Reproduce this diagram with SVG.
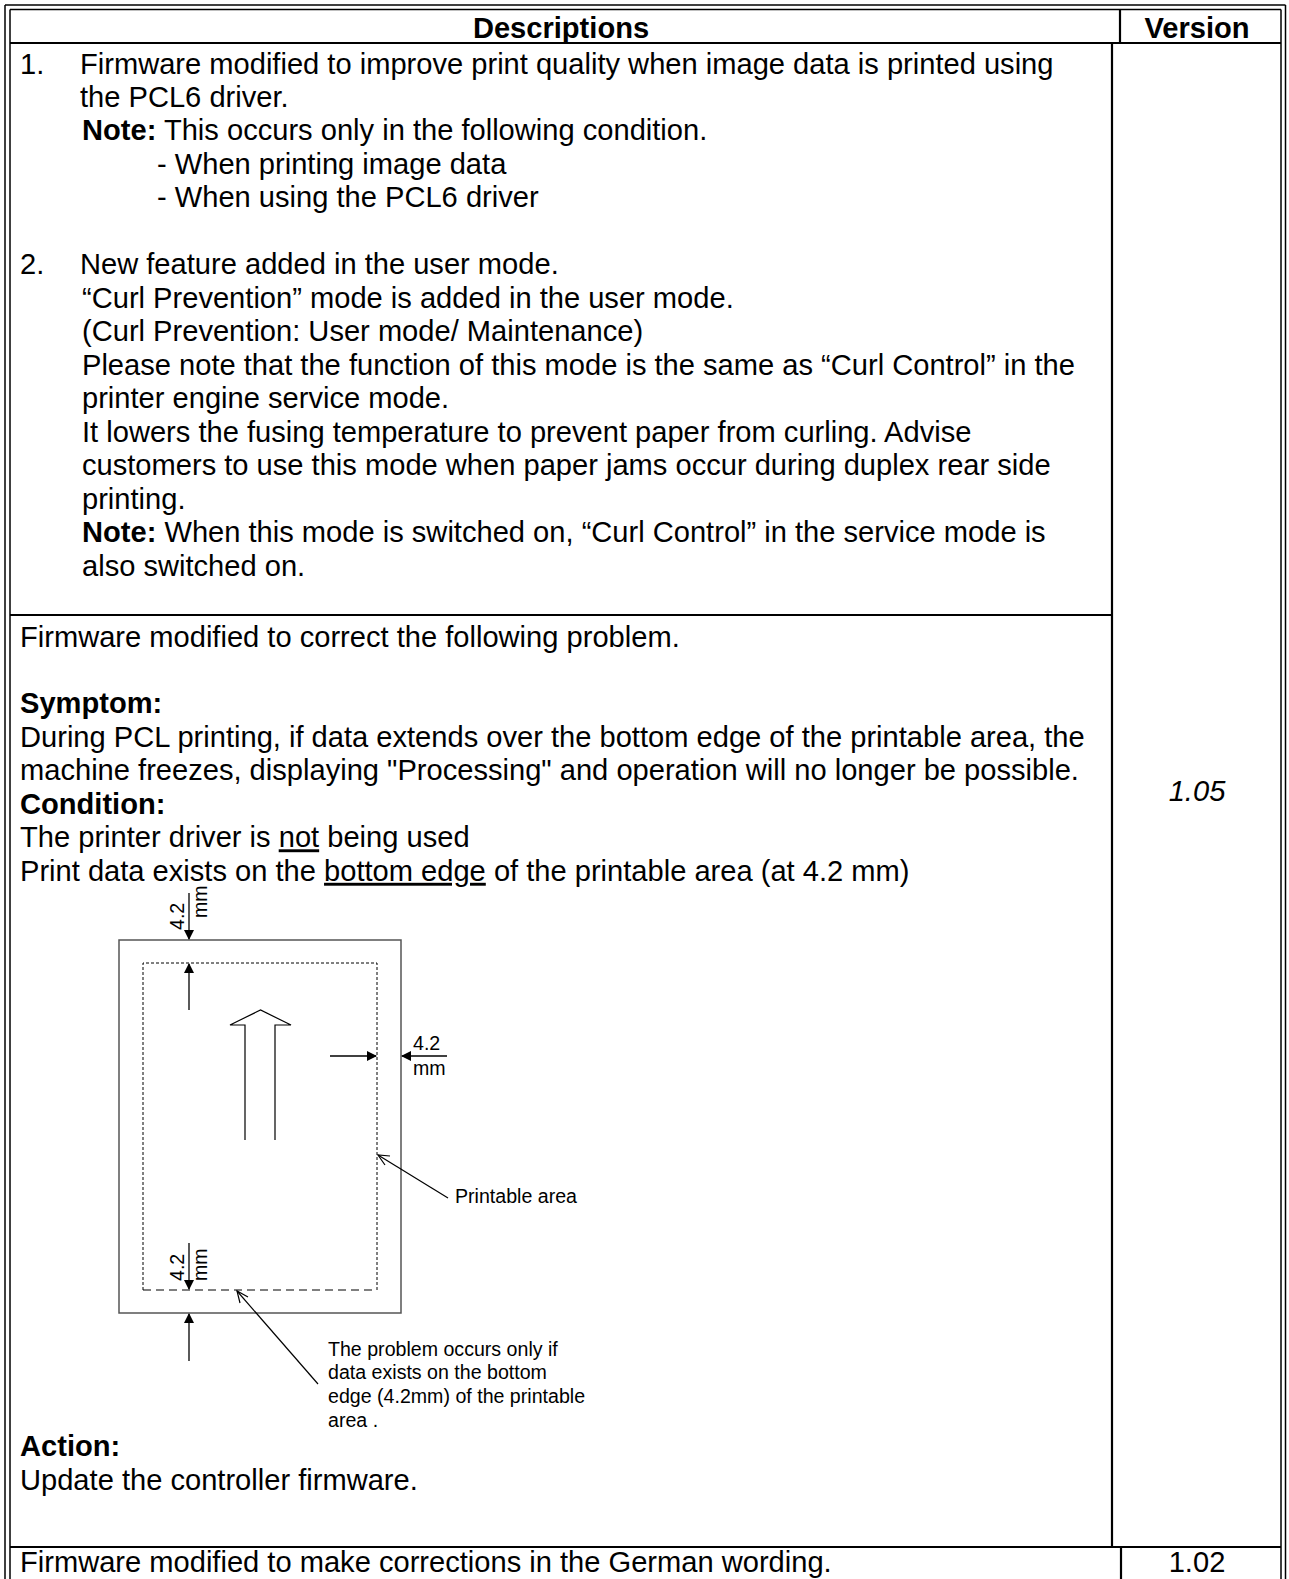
<svg xmlns="http://www.w3.org/2000/svg" width="1289" height="1579" viewBox="0 0 1289 1579">
<defs>
<style>
.t{font-family:"Liberation Sans",Arial,sans-serif;font-size:29.1px;fill:#000}
.b{font-weight:bold}
.s{font-family:"Liberation Sans",Arial,sans-serif;font-size:19.6px;fill:#000}
.ln{stroke:#000;stroke-width:2.2;fill:none}
.dl{stroke:#000;stroke-width:1.5;fill:none}
.dim{stroke:#000;stroke-width:1.3;fill:none}
.ld{stroke:#000;stroke-width:1.2;fill:none}
</style>
<marker id="fh" markerWidth="10" markerHeight="10" refX="9" refY="5" orient="auto" markerUnits="userSpaceOnUse">
<path d="M0,0 L10,5 L0,10 Z" fill="#000"/>
</marker>
</defs>
<rect width="1289" height="1579" fill="#fff"/>

<g id="table">
<line class="dl" x1="5" y1="5" x2="1285.5" y2="5"/>
<line class="dl" x1="10" y1="9.5" x2="1281" y2="9.5"/>
<line class="dl" x1="5" y1="5" x2="5" y2="1579"/>
<line class="dl" x1="10" y1="9.5" x2="10" y2="1579"/>
<line class="dl" x1="1285.5" y1="5" x2="1285.5" y2="1579"/>
<line class="dl" x1="1281" y1="9.5" x2="1281" y2="1579"/>
<line class="ln" x1="10" y1="43" x2="1281" y2="43"/>
<line class="ln" x1="1120" y1="9.5" x2="1120" y2="43"/>
<line class="ln" x1="1112" y1="43" x2="1112" y2="1547"/>
<line class="ln" x1="10" y1="615" x2="1112" y2="615"/>
<line class="ln" x1="10" y1="1547" x2="1281" y2="1547"/>
<line class="ln" x1="1121" y1="1547" x2="1121" y2="1579"/>
</g>

<g id="header">
<text class="t b" x="561" y="38" text-anchor="middle">Descriptions</text>
<text class="t b" x="1197" y="38" text-anchor="middle">Version</text>
</g>

<g id="row1">
<text class="t" x="20" y="73.5">1.</text>
<text class="t" x="80" y="73.5">Firmware modified to improve print quality when image data is printed using</text>
<text class="t" x="80" y="107">the PCL6 driver.</text>
<text class="t" x="82" y="140.4"><tspan class="b">Note:</tspan> This occurs only in the following condition.</text>
<text class="t" x="157" y="173.9">- When printing image data</text>
<text class="t" x="157" y="207.4">- When using the PCL6 driver</text>
<text class="t" x="20" y="274.3">2.</text>
<text class="t" x="80" y="274.3">New feature added in the user mode.</text>
<text class="t" x="82" y="307.8">“Curl Prevention” mode is added in the user mode.</text>
<text class="t" x="82" y="341.3">(Curl Prevention: User mode/ Maintenance)</text>
<text class="t" x="82" y="374.7">Please note that the function of this mode is the same as “Curl Control” in the</text>
<text class="t" x="82" y="408.2">printer engine service mode.</text>
<text class="t" x="82" y="441.7">It lowers the fusing temperature to prevent paper from curling. Advise</text>
<text class="t" x="82" y="475.1">customers to use this mode when paper jams occur during duplex rear side</text>
<text class="t" x="82" y="508.6">printing.</text>
<text class="t" x="82" y="542.1"><tspan class="b">Note:</tspan> When this mode is switched on, “Curl Control” in the service mode is</text>
<text class="t" x="82" y="575.5">also switched on.</text>
</g>

<g id="version">
<text class="t" x="1197" y="800.5" text-anchor="middle" font-style="italic">1.05</text>
<text class="t" x="1197" y="1572" text-anchor="middle">1.02</text>
</g>

<g id="row2">
<text class="t" x="20" y="646.5">Firmware modified to correct the following problem.</text>
<text class="t b" x="20" y="713.4">Symptom:</text>
<text class="t" x="20" y="746.9">During PCL printing, if data extends over the bottom edge of the printable area, the</text>
<text class="t" x="20" y="780.4">machine freezes, displaying "Processing" and operation will no longer be possible.</text>
<text class="t b" x="20" y="813.9">Condition:</text>
<text class="t" x="20" y="847.3">The printer driver is <tspan text-decoration="underline">not</tspan> being used</text>
<text class="t" x="20" y="880.8">Print data exists on the <tspan text-decoration="underline">bottom edge</tspan> of the printable area (at 4.2 mm)</text>
<text class="t b" x="20" y="1456">Action:</text>
<text class="t" x="20" y="1490">Update the controller firmware.</text>
</g>

<g id="row3">
<text class="t" x="20" y="1572">Firmware modified to make corrections in the German wording.</text>
</g>

<g id="paper">
<rect x="119" y="940" width="282" height="373" fill="none" stroke="#555" stroke-width="1.5"/>
<path d="M143,1290 L143,963 L377,963 L377,1290" fill="none" stroke="#000" stroke-width="1" stroke-dasharray="3,2"/>
<line x1="143" y1="1290" x2="377" y2="1290" stroke="#000" stroke-width="1.2" stroke-dasharray="8,5"/>
<path d="M245,1140 L245,1025 L230,1025 L260.5,1010 L291,1025 L275,1025 L275,1140" fill="#fff" stroke="#000" stroke-width="1.2"/>
</g>

<g id="connectors">
<line class="dim" x1="189" y1="893" x2="189" y2="939" marker-end="url(#fh)"/>
<line class="dim" x1="189" y1="1010" x2="189" y2="964" marker-end="url(#fh)"/>
<line class="dim" x1="330" y1="1056" x2="376" y2="1056" marker-end="url(#fh)"/>
<line class="dim" x1="447" y1="1056" x2="402" y2="1056" marker-end="url(#fh)"/>
<line class="dim" x1="189" y1="1243" x2="189" y2="1289" marker-end="url(#fh)"/>
<line class="dim" x1="189" y1="1361" x2="189" y2="1314" marker-end="url(#fh)"/>
<path class="ld" d="M448,1198 L378,1155"/>
<path class="ld" d="M390,1156 L378,1155 L385,1165"/>
<path class="ld" d="M318,1384 L237,1291"/>
<path class="ld" d="M248,1297 L237,1291 L240,1303"/>
</g>

<g id="labels">
<text class="s" transform="translate(184,930) rotate(-90)">4.2</text>
<text class="s" transform="translate(207,918) rotate(-90)">mm</text>
<text class="s" x="413" y="1050">4.2</text>
<text class="s" x="413" y="1075">mm</text>
<text class="s" transform="translate(184,1281) rotate(-90)">4.2</text>
<text class="s" transform="translate(207,1281) rotate(-90)">mm</text>
<text class="s" x="455" y="1203">Printable area</text>
<text class="s" x="328" y="1355.5">The problem occurs only if</text>
<text class="s" x="328" y="1379.2">data exists on the bottom</text>
<text class="s" x="328" y="1402.9">edge (4.2mm) of the printable</text>
<text class="s" x="328" y="1426.6">area .</text>
</g>
</svg>
